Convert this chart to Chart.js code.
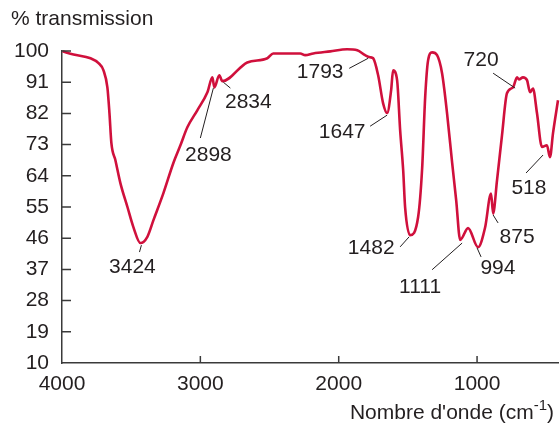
<!DOCTYPE html>
<html lang="fr">
<head>
    <meta charset="UTF-8">
    <title>Spectre IR</title>
    <style>
        body { margin: 0; background: #fff; }
        #spectre { display: block; }
    </style>
    <script src="https://cdn.jsdelivr.net/npm/chart.js"></script>
</head>
<body>
    <canvas id="spectre" width="560" height="425"></canvas>

    <script>
        const nombresOnde = [3996, 3917, 3794, 3736, 3700, 3672, 3657, 3643, 3614, 3578,
            3527, 3484, 3433, 3383, 3339, 3267, 3195, 3144, 3094, 3022,
            2949, 2913, 2899, 2863, 2841, 2661, 2516, 2473, 2278, 2242,
            2184, 2061, 1939, 1866, 1809, 1773, 1751, 1715, 1679, 1650,
            1621, 1607, 1578, 1556, 1534, 1520, 1484, 1426, 1397, 1375,
            1354, 1325, 1289, 1253, 1217, 1180, 1151, 1122, 1065, 993,
            942, 899, 884, 856, 820, 784, 740, 711, 697, 668,
            639, 617, 596, 567, 531, 495, 473, 451, 415];
        const transmission = [99.9, 99.0, 97.9, 96.5, 94.4, 89.5, 82.1, 73.4, 68.5, 61.9,
            55.0, 49.2, 44.6, 46.4, 51.2, 59.0, 67.7, 72.8, 78.0, 82.9,
            88.1, 92.4, 89.5, 93.0, 91.3, 96.7, 97.9, 99.3, 99.3, 98.8,
            99.3, 99.9, 100.5, 100.2, 98.8, 98.2, 97.9, 93.0, 84.9, 82.1,
            88.7, 94.4, 91.6, 77.2, 65.6, 54.9, 46.9, 52.1, 66.1, 86.7,
            97.3, 99.6, 98.8, 93.6, 82.1, 67.7, 57.0, 45.5, 48.9, 43.4,
            49.1, 58.9, 53.1, 62.6, 75.6, 87.8, 89.5, 92.4, 91.8, 92.4,
            91.6, 88.1, 89.2, 82.1, 72.3, 72.8, 69.4, 76.3, 85.8];

        const ticksX = [4000, 3000, 2000, 1000];
        const ticksY = [10, 19, 28, 37, 46, 55, 64, 73, 82, 91, 100];

        // Pics annotés
        const etiquettes = ['3424', '2898', '2834', '1793', '1647', '720', '1482', '1111', '994', '875', '518'];
        const posTexte = [[3491, 37.7], [2942, 70.0], [2653, 85.2], [2134, 93.9], [1975, 76.6], [971, 97.3],
            [1765, 43.2], [1412, 32.0], [849, 37.4], [711, 46.4], [625, 60.5]];
        const traitDebut = [[3426, 44.0], [3000, 74.9], [2834, 91.0], [1924, 95.0], [1773, 78.3], [884, 93.6],
            [1556, 43.5], [1325, 36.9], [1000, 43.2], [884, 52.7], [646, 64.8]];
        const traitFin = [[3440, 42.0], [2906, 89.3], [2783, 89.3], [1787, 97.9], [1650, 81.5], [725, 89.3],
            [1491, 46.4], [1108, 44.6], [971, 40.6], [848, 50.4], [523, 70.0]];

        const police = '"Liberation Sans", Arial, Helvetica, sans-serif';
        const taille = 21;
        const couleurTexte = '#231f20';
        const couleurAxe = '#3a3a3a';

        // Graduations intérieures, annotations et titres des axes
        const decor = {
            id: 'decor',
            afterDraw(chart) {
                const ctx = chart.ctx;
                const sx = chart.scales.x;
                const sy = chart.scales.y;
                const zone = chart.chartArea;
                ctx.save();
                ctx.strokeStyle = couleurAxe;
                ctx.lineWidth = 1.5;
                ctx.beginPath();
                ticksY.slice(1).forEach(v => {
                    const py = sy.getPixelForValue(v);
                    ctx.moveTo(zone.left, py);
                    ctx.lineTo(zone.left + 9, py);
                });
                ticksX.slice(1).forEach(v => {
                    const px = sx.getPixelForValue(v);
                    ctx.moveTo(px, zone.bottom);
                    ctx.lineTo(px, zone.bottom - 7);
                });
                ctx.stroke();

                // traits de rappel
                ctx.strokeStyle = couleurTexte;
                ctx.lineWidth = 1;
                ctx.beginPath();
                traitDebut.forEach((d, i) => {
                    ctx.moveTo(sx.getPixelForValue(d[0]), sy.getPixelForValue(d[1]));
                    ctx.lineTo(sx.getPixelForValue(traitFin[i][0]), sy.getPixelForValue(traitFin[i][1]));
                });
                ctx.stroke();

                ctx.fillStyle = couleurTexte;
                ctx.font = taille + 'px ' + police;
                ctx.textAlign = 'center';
                ctx.textBaseline = 'middle';
                etiquettes.forEach((t, i) => {
                    ctx.fillText(t, sx.getPixelForValue(posTexte[i][0]), sy.getPixelForValue(posTexte[i][1]));
                });

                // titre de l'axe y
                ctx.textAlign = 'left';
                ctx.fillText('% transmission', 11, 19);

                // titre de l'axe x avec exposant
                ctx.textBaseline = 'alphabetic';
                const base = 419;
                const fin = chart.width - 6;
                ctx.font = taille + 'px ' + police;
                const wFin = ctx.measureText(')').width;
                ctx.font = '15px ' + police;
                const wExp = ctx.measureText('-1').width;
                ctx.font = taille + 'px ' + police;
                const debut = 'Nombre d\'onde (cm';
                const wDebut = ctx.measureText(debut).width;
                const x0 = fin - wFin - wExp - wDebut;
                ctx.fillText(debut, x0, base);
                ctx.font = '15px ' + police;
                ctx.fillText('-1', x0 + wDebut, base - 9);
                ctx.font = taille + 'px ' + police;
                ctx.fillText(')', x0 + wDebut + wExp, base);
                ctx.restore();
            }
        };

        const ctx = document.getElementById('spectre').getContext('2d');
        new Chart(ctx, {
            type: 'line',
            data: {
                datasets: [{
                    data: nombresOnde.map((w, i) => ({ x: w, y: transmission[i] })),
                    borderColor: '#d0103c',
                    borderWidth: 2.6,
                    pointRadius: 0,
                    cubicInterpolationMode: 'monotone',
                    fill: false,
                    clip: false
                }]
            },
            options: {
                responsive: false,
                animation: false,
                layout: { padding: { top: 51, right: 2, left: 0, bottom: 0 } },
                plugins: { legend: { display: false }, tooltip: { enabled: false } },
                scales: {
                    x: {
                        type: 'linear',
                        reverse: true,
                        min: 415,
                        max: 4000,
                        afterBuildTicks: s => { s.ticks = ticksX.map(v => ({ value: v })); },
                        afterFit: s => { s.height = 62; },
                        grid: { display: false, drawTicks: false },
                        border: { display: true, color: couleurAxe, width: 1.5 },
                        ticks: {
                            padding: 9,
                            maxRotation: 0,
                            autoSkip: false,
                            color: couleurTexte,
                            font: { family: police, size: taille },
                            callback: v => String(v)
                        }
                    },
                    y: {
                        min: 10,
                        max: 100,
                        afterBuildTicks: s => { s.ticks = ticksY.map(v => ({ value: v })); },
                        afterFit: s => { s.width = 62; },
                        grid: { display: false, drawTicks: false },
                        border: { display: true, color: couleurAxe, width: 1.5 },
                        ticks: {
                            padding: 13,
                            color: couleurTexte,
                            font: { family: police, size: taille }
                        }
                    }
                }
            },
            plugins: [decor]
        });
    </script>
</body>
</html>
